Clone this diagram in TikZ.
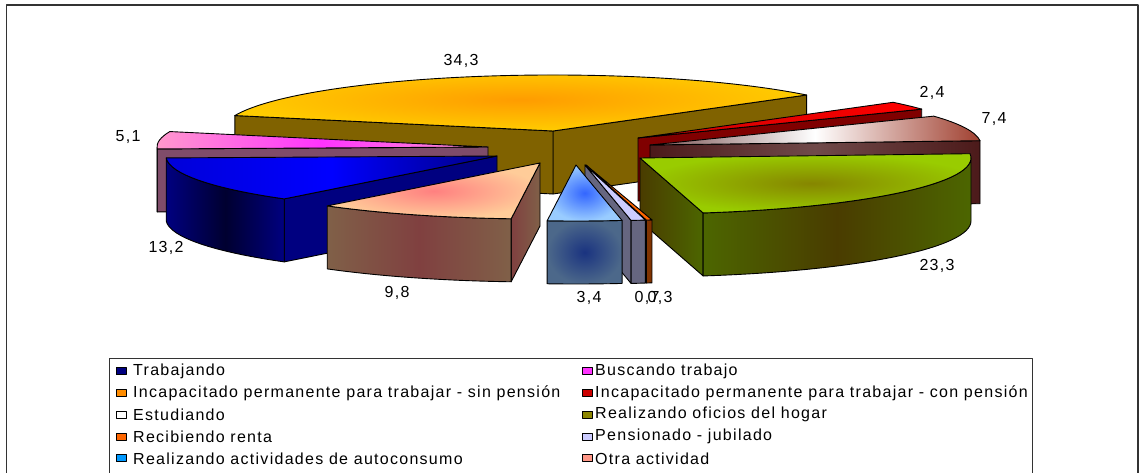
\documentclass[tikz,border=0pt]{standalone}
\usepackage{fontspec}
\setmainfont{Liberation Sans}[LetterSpace=8]
\usetikzlibrary{calc}
\definecolor{orside}{RGB}{128, 98, 0}
\definecolor{ormid}{RGB}{255, 156, 0}
\definecolor{orrim}{RGB}{255, 204, 0}
\definecolor{redside}{RGB}{128, 0, 0}
\definecolor{whside}{RGB}{76, 26, 26}
\definecolor{whmid}{RGB}{112, 74, 74}
\definecolor{whleft}{RGB}{120, 80, 80}
\definecolor{whend}{RGB}{160, 64, 48}
\definecolor{grtop}{RGB}{153, 204, 0}
\definecolor{grmid}{RGB}{134, 134, 0}
\definecolor{grside}{RGB}{76, 102, 0}
\definecolor{grdark}{RGB}{74, 60, 0}
\definecolor{pklight}{RGB}{255, 153, 204}
\definecolor{pkdeep}{RGB}{255, 51, 255}
\definecolor{pkside}{RGB}{127, 76, 106}
\definecolor{bldeep}{RGB}{0, 0, 128}
\definecolor{bldark}{RGB}{0, 0, 48}
\definecolor{pchtop}{RGB}{255, 204, 153}
\definecolor{pchmid}{RGB}{255, 128, 128}
\definecolor{pchside}{RGB}{128, 96, 72}
\definecolor{pchdark}{RGB}{128, 64, 64}
\definecolor{lbtop}{RGB}{153, 204, 255}
\definecolor{lbmid}{RGB}{51, 102, 255}
\definecolor{lbside}{RGB}{76, 104, 138}
\definecolor{lbdark}{RGB}{26, 51, 128}
\definecolor{pstop}{RGB}{204, 204, 255}
\definecolor{psside}{RGB}{102, 102, 128}
\definecolor{rntop}{RGB}{255, 102, 0}
\definecolor{rnside}{RGB}{128, 51, 0}
\definecolor{frame}{RGB}{51, 51, 51}
% one wedge of the pie: top face, outer rim, radial face
\newcommand{\wedgetop}[4]{%
  \path[shift={(#1)}, #4] (0,0) -- (#2:331 and 56)
    arc[start angle=#2, end angle=#3, x radius=331, y radius=56] -- cycle;}
\newcommand{\wedgerim}[4]{%
  \path[shift={(#1)}, #4] (#2:331 and 56)
    arc[start angle=#2, end angle=#3, x radius=331, y radius=56] -- ++(0,-63)
    arc[start angle=#3, end angle=#2, x radius=331, y radius=56] -- cycle;}
\newcommand{\wedgeside}[3]{%
  \path[shift={(#1)}, #3] (0,0) -- (#2:331 and 56) -- ++(0,-63) -- (0,-63) -- cycle;}

\begin{document}
\begin{tikzpicture}[x=1pt, y=1pt, line join=round,
  edge/.style={draw=black, line width=0.9pt},
  lbl/.style={font=\fontsize{16}{19}\selectfont, inner sep=0pt},
  key/.style={draw=black, line width=0.9pt, minimum width=10pt, minimum height=7pt, inner sep=0pt}]
  \useasboundingbox (0,0) rectangle (1141,473);

  % frames
  \draw[frame, line width=1.4pt] (6.5,-2) -- (6.5,468) -- (1138,468) -- (1138,-2);
  \draw[frame, line width=1pt] (109.5,-2) -- (109.5,114) -- (1032,114) -- (1032,-2);

  \coordinate (ctrO) at (553,342);
  \coordinate (ctrR) at (638,335);
  \coordinate (ctrW) at (650,328);
  \coordinate (ctrG) at (640,315);
  \coordinate (ctrP) at (488,326);
  \coordinate (ctrB) at (497,317);
  \coordinate (ctrE) at (540,310);
  \coordinate (ctrN) at (586,308);
  \coordinate (ctrJ) at (585,308);
  \coordinate (ctrL) at (576,308);

  % sin pension
  \wedgeside{ctrO}{40}{edge, fill=orside}
  \wedgeside{ctrO}{164}{edge, fill=orside}
  \wedgetop{ctrO}{40}{164}{edge, inner color=ormid, outer color=orrim}
  % con pension
  \wedgeside{ctrR}{31}{edge, fill=redside}
  \wedgetop{ctrR}{31}{39.6}{edge, left color=red!80!black, right color=red}
  % estudiando
  \wedgeside{ctrW}{4.4}{edge, left color=whside, right color=whside, middle color=whmid}
  \wedgetop{ctrW}{4.4}{31}{edge, left color=whleft, right color=whend, middle color=white}
  % oficios del hogar
  \wedgeside{ctrG}{281}{edge, left color=grdark, right color=grside}
  \wedgerim{ctrG}{281}{360}{edge, left color=grside, right color=grside, middle color=grdark}
  \wedgetop{ctrG}{281}{364.4}{edge, inner color=grmid, outer color=grtop}
  % buscando trabajo
  \wedgeside{ctrP}{182}{edge, fill=pkside}
  \wedgerim{ctrP}{180}{182}{edge, fill=pkside}
  \wedgetop{ctrP}{164}{182}{edge, left color=pklight, right color=pklight, middle color=pkdeep}
  % trabajando
  \wedgeside{ctrB}{230}{edge, fill=bldeep}
  \wedgerim{ctrB}{182}{230}{edge, left color=bldeep, right color=bldeep, middle color=bldark}
  \wedgetop{ctrB}{182}{230}{edge, left color=blue!85!black, right color=bldeep, middle color=blue}
  % otra actividad
  \wedgeside{ctrE}{265}{edge, left color=pchdark, right color=pchside}
  \wedgerim{ctrE}{230}{265}{edge, left color=pchside, right color=pchside, middle color=pchdark}
  \wedgetop{ctrE}{230}{265}{edge, inner color=pchmid, outer color=pchtop}
  % renta
  \wedgeside{ctrN}{280.5}{edge, fill=rnside}
  \wedgerim{ctrN}{280.5}{281.5}{edge, fill=rnside}
  \wedgetop{ctrN}{280.5}{281.5}{edge, fill=rntop}
  % pensionado
  \wedgeside{ctrJ}{278}{edge, fill=psside}
  \wedgerim{ctrJ}{278}{280.5}{edge, fill=psside}
  \wedgetop{ctrJ}{278}{280.5}{edge, fill=pstop}
  % autoconsumo
  \wedgerim{ctrL}{265}{278}{edge, inner color=lbdark, outer color=lbside}
  \wedgetop{ctrL}{265}{278}{edge, inner color=lbmid, outer color=lbtop}

  % values
  \node[lbl] (vO) at (461,412) {34,3};
  \node[lbl] (vP) at (128,336) {5,1};
  \node[lbl] (vB) at (166,225) {13,2};
  \node[lbl] (vE) at (397,180) {9,8};
  \node[lbl] (vL) at (589,175) {3,4};
  \node[lbl] (vJ) at (647,175) {0,7};
  \node[lbl] (vN) at (660,175) {0,3};
  \node[lbl] (vG) at (937,207) {23,3};
  \node[lbl] (vW) at (994,354) {7,4};
  \node[lbl] (vR) at (932,380) {2,4};

  % legend
  \foreach \col/\txt [count=\i] in {bldeep/Trabajando,
      orange!90!yellow/Incapacitado permanente para trabajar - sin pensión,
      white/Estudiando, rntop/Recibiendo renta,
      blue!40!cyan/Realizando actividades de autoconsumo} {
    \node[key, fill=\col] (ka\i) at (121,{101.7-21.75*(\i-1)}) {};
    \node[lbl, anchor=west] (ta\i) at (133,{101.7-21.75*(\i-1)}) {\txt};
  }
  \foreach \col/\txt [count=\i] in {pkdeep/Buscando trabajo,
      red!80!black/Incapacitado permanente para trabajar - con pensión,
      olive/Realizando oficios del hogar, pstop/Pensionado - jubilado,
      pchmid!70!pchtop/Otra actividad} {
    \node[key, fill=\col] (kb\i) at (587.5,{101.7-21.75*(\i-1)}) {};
    \node[lbl, anchor=west] (tb\i) at (595,{101.7-21.75*(\i-1)}) {\txt};
  }
\end{tikzpicture}
\end{document}
